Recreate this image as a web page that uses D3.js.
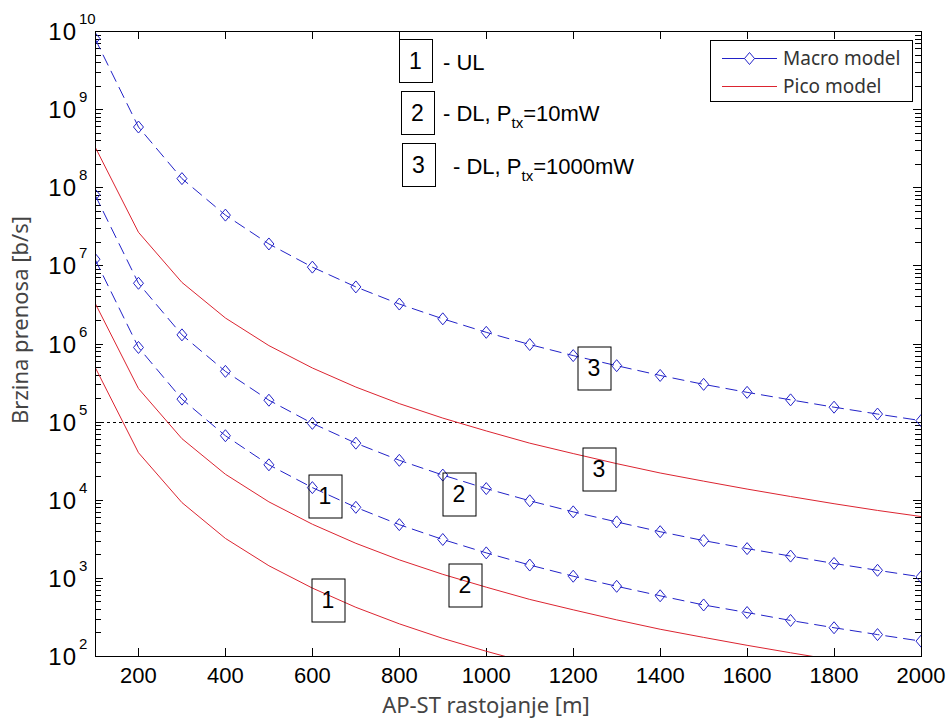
<!DOCTYPE html>
<html>
<head>
<meta charset="utf-8">
<script src="https://cdn.jsdelivr.net/npm/d3@7"></script>
<style>
  body { margin: 0; background: #fff; }
  text { font-family: "Liberation Sans", Arial, sans-serif; }
  .axisTitle { font-family: "Noto Sans", "Open Sans", sans-serif; fill: #444; }
</style>
</head>
<body>
<div id="chart"></div>
<script>
// Data
var distances = [100, 200, 300, 400, 500, 600, 700, 800, 900, 1000,
  1100, 1200, 1300, 1400, 1500, 1600, 1700, 1800, 1900, 2000];

// Macro model (blue dashed, diamonds)
var macroUL = [1.2e7, 8.9e5, 1.94e5, 6.6e4, 2.8e4, 1.43e4, 8.0e3, 4.8e3, 3.1e3, 2.09e3,
  1.46e3, 1.05e3, 780, 590, 450, 360, 285, 230, 188, 155];
var macroDL10 = [8.0e7, 5.9e6, 1.29e6, 4.4e5, 1.88e5, 9.5e4, 5.3e4, 3.2e4, 2.07e4, 1.39e4,
  9.7e3, 7.0e3, 5.2e3, 3.9e3, 3.0e3, 2.37e3, 1.9e3, 1.53e3, 1.25e3, 1.03e3];
var macroDL1000 = [8.0e9, 5.9e8, 1.29e8, 4.4e7, 1.88e7, 9.5e6, 5.3e6, 3.2e6, 2.07e6, 1.39e6,
  9.7e5, 7.0e5, 5.2e5, 3.9e5, 3.0e5, 2.37e5, 1.9e5, 1.53e5, 1.25e5, 1.03e5];

// Pico model (red solid)
var picoUL = [5.0e5, 4.0e4, 9.2e3, 3.2e3, 1.43e3, 740, 420, 258, 168, 115,
  81, 59, 44, 34, 26, 21, 17, 13, 11, 9.2];
var picoDL10 = [3.3e6, 2.65e5, 6.05e4, 2.12e4, 9.4e3, 4.86e3, 2.77e3, 1.70e3, 1.11e3, 760,
  530, 390, 290, 220, 173, 137, 110, 89, 73, 61];
var picoDL1000 = [3.3e8, 2.65e7, 6.05e6, 2.12e6, 9.4e5, 4.86e5, 2.77e5, 1.70e5, 1.11e5, 7.6e4,
  5.3e4, 3.9e4, 2.9e4, 2.2e4, 1.73e4, 1.37e4, 1.10e4, 8.9e3, 7.3e3, 6.1e3];

var xTicks = [200, 400, 600, 800, 1000, 1200, 1400, 1600, 1800, 2000];
var yExponents = [2, 3, 4, 5, 6, 7, 8, 9, 10];
var thresholdRate = 1e5;

// numbered boxes placed on the curves [distance, rate, label]
var curveLabels = [
  [1247, 4.8e5, "3"], [1259, 2.48e4, "3"],
  [629, 1.13e4, "1"], [938, 1.19e4, "2"],
  [950, 822, "2"], [635, 521, "1"]
];
var keyLabels = ["1", "2", "3"];

var svgWidth = 950;
var svgHeight = 721;
var margin = { top: 31, right: 29, bottom: 65, left: 95 };
var width = svgWidth - margin.left - margin.right;
var height = svgHeight - margin.top - margin.bottom;

var blue = "#2222c8";
var red = "#dc2430";

var svg = d3.select("#chart")
  .append("svg")
  .attr("width", svgWidth)
  .attr("height", svgHeight);

var chartGroup = svg.append("g")
  .attr("transform", `translate(${margin.left}, ${margin.top})`);

// scales
var xScale = d3.scaleLinear().domain([100, 2000]).range([0, width]);
var yScale = d3.scaleLog().domain([1e2, 1e10]).range([height, 0]);

chartGroup.append("clipPath")
  .attr("id", "plotClip")
  .append("rect")
  .attr("width", width)
  .attr("height", height);

// ticks (inside, all four sides)
var tickGroup = chartGroup.append("g").attr("stroke", "#000").attr("stroke-width", 1);
xTicks.forEach(function(t) {
  var x = Math.round(xScale(t)) + 0.5;
  tickGroup.append("line").attr("x1", x).attr("x2", x).attr("y1", height).attr("y2", height - 8);
  tickGroup.append("line").attr("x1", x).attr("x2", x).attr("y1", 0).attr("y2", 8);
});
yExponents.forEach(function(e) {
  var y = Math.round(yScale(Math.pow(10, e))) + 0.5;
  tickGroup.append("line").attr("x1", 0).attr("x2", 8).attr("y1", y).attr("y2", y);
  tickGroup.append("line").attr("x1", width).attr("x2", width - 8).attr("y1", y).attr("y2", y);
  if (e < 10) {
    for (var m = 2; m <= 9; m++) {
      var ym = Math.round(yScale(m * Math.pow(10, e))) + 0.5;
      tickGroup.append("line").attr("x1", 0).attr("x2", 6).attr("y1", ym).attr("y2", ym);
      tickGroup.append("line").attr("x1", width).attr("x2", width - 6).attr("y1", ym).attr("y2", ym);
    }
  }
});

// tick labels
chartGroup.selectAll(".xlab")
  .data(xTicks)
  .enter()
  .append("text")
  .attr("x", d => xScale(d))
  .attr("y", height + 27)
  .attr("text-anchor", "middle")
  .style("font-size", "22px")
  .text(d => d);

var yLab = chartGroup.selectAll(".ylab")
  .data(yExponents)
  .enter()
  .append("g")
  .attr("transform", d => `translate(0, ${yScale(Math.pow(10, d))})`);
yLab.append("text")
  .attr("x", -18)
  .attr("y", 9)
  .attr("text-anchor", "end")
  .style("font-size", "24px")
  .style("letter-spacing", "1px")
  .text("10");
yLab.append("text")
  .attr("x", -16)
  .attr("y", -7)
  .style("font-size", "15px")
  .text(d => d);

// threshold line
chartGroup.append("line")
  .attr("x1", 0)
  .attr("x2", width)
  .attr("y1", Math.round(yScale(thresholdRate)) + 0.5)
  .attr("y2", Math.round(yScale(thresholdRate)) + 0.5)
  .attr("stroke", "#000")
  .attr("stroke-dasharray", "3,3");

// curves
var line = d3.line()
  .x(d => xScale(d[0]))
  .y(d => yScale(d[1]));

var plotGroup = chartGroup.append("g").attr("clip-path", "url(#plotClip)");
var diamond = "M0,-6L5,0L0,6L-5,0Z";

[picoUL, picoDL10, picoDL1000].forEach(function(series) {
  plotGroup.append("path")
    .datum(d3.zip(distances, series))
    .attr("d", line)
    .attr("fill", "none")
    .attr("stroke", red)
    .attr("stroke-width", 1);
});

[macroUL, macroDL10, macroDL1000].forEach(function(series) {
  var pts = d3.zip(distances, series);
  plotGroup.append("path")
    .datum(pts)
    .attr("d", line)
    .attr("fill", "none")
    .attr("stroke", blue)
    .attr("stroke-width", 1)
    .attr("stroke-dasharray", "12,6");
  plotGroup.selectAll(null)
    .data(pts)
    .enter()
    .append("path")
    .attr("d", diamond)
    .attr("transform", d => `translate(${xScale(d[0])}, ${yScale(d[1])})`)
    .attr("fill", "none")
    .attr("stroke", blue)
    .attr("stroke-width", 1);
});

// numbered boxes on the curves
var boxW = 33, boxH = 43;
var boxes = chartGroup.selectAll(".cbox")
  .data(curveLabels)
  .enter()
  .append("g")
  .attr("transform", d => `translate(${Math.round(xScale(d[0]))}, ${Math.round(yScale(d[1]))})`);
boxes.append("rect")
  .attr("x", -boxW / 2 + 0.5)
  .attr("y", -boxH / 2 + 0.5)
  .attr("width", boxW)
  .attr("height", boxH)
  .attr("fill", "none")
  .attr("stroke", "#000");
boxes.append("text")
  .attr("y", 8)
  .attr("text-anchor", "middle")
  .style("font-size", "23px")
  .text(d => d[2]);

// key for the numbers (top center)
var keyX = [304, 306, 307];
var keyY = [8, 60, 112];
var keyGroup = chartGroup.selectAll(".key")
  .data(keyLabels)
  .enter()
  .append("g")
  .attr("transform", (d, i) => `translate(${keyX[i]}, ${keyY[i]})`);
keyGroup.append("rect")
  .attr("x", 0.5)
  .attr("y", 0.5)
  .attr("width", boxW)
  .attr("height", boxH)
  .attr("fill", "none")
  .attr("stroke", "#000");
keyGroup.append("text")
  .attr("x", boxW / 2)
  .attr("y", 30)
  .attr("text-anchor", "middle")
  .style("font-size", "23px")
  .text(d => d);

var k1 = chartGroup.append("text").attr("x", 348).attr("y", 39).style("font-size", "22px");
k1.text("- UL");
var k2 = chartGroup.append("text").attr("x", 348).attr("y", 90).style("font-size", "22px");
k2.append("tspan").text("- DL, P");
k2.append("tspan").attr("dy", 7).style("font-size", "15px").text("tx");
k2.append("tspan").attr("dy", -7).text("=10mW");
var k3 = chartGroup.append("text").attr("x", 358).attr("y", 143).style("font-size", "22px");
k3.append("tspan").text("- DL, P");
k3.append("tspan").attr("dy", 7).style("font-size", "15px").text("tx");
k3.append("tspan").attr("dy", -7).text("=1000mW");

// legend
var legend = chartGroup.append("g").attr("transform", "translate(615, 9)");
legend.append("rect")
  .attr("x", 0.5)
  .attr("y", 0.5)
  .attr("width", 202)
  .attr("height", 61)
  .attr("fill", "#fff")
  .attr("stroke", "#000");
legend.append("line").attr("x1", 12).attr("x2", 67).attr("y1", 18.5).attr("y2", 18.5)
  .attr("stroke", blue);
legend.append("path").attr("d", diamond).attr("transform", "translate(39.5, 18.5)")
  .attr("fill", "#fff").attr("stroke", blue);
legend.append("line").attr("x1", 12).attr("x2", 67).attr("y1", 46.5).attr("y2", 46.5)
  .attr("stroke", red);
legend.append("text").attr("class", "axisTitle").attr("x", 73).attr("y", 25)
  .style("font-size", "19px").style("fill", "#333").text("Macro model");
legend.append("text").attr("class", "axisTitle").attr("x", 73).attr("y", 53)
  .style("font-size", "19px").style("fill", "#333").text("Pico model");

// frame
chartGroup.append("rect")
  .attr("x", 0.5)
  .attr("y", 0.5)
  .attr("width", width)
  .attr("height", height)
  .attr("fill", "none")
  .attr("stroke", "#000");

// axis titles
chartGroup.append("text")
  .attr("class", "axisTitle")
  .attr("x", 391)
  .attr("y", height + 57)
  .attr("text-anchor", "middle")
  .style("font-size", "22px")
  .text("AP-ST rastojanje [m]");

chartGroup.append("text")
  .attr("class", "axisTitle")
  .attr("transform", "rotate(-90)")
  .attr("x", -289)
  .attr("y", -67)
  .attr("text-anchor", "middle")
  .style("font-size", "22px")
  .text("Brzina prenosa [b/s]");
</script>
</body>
</html>
